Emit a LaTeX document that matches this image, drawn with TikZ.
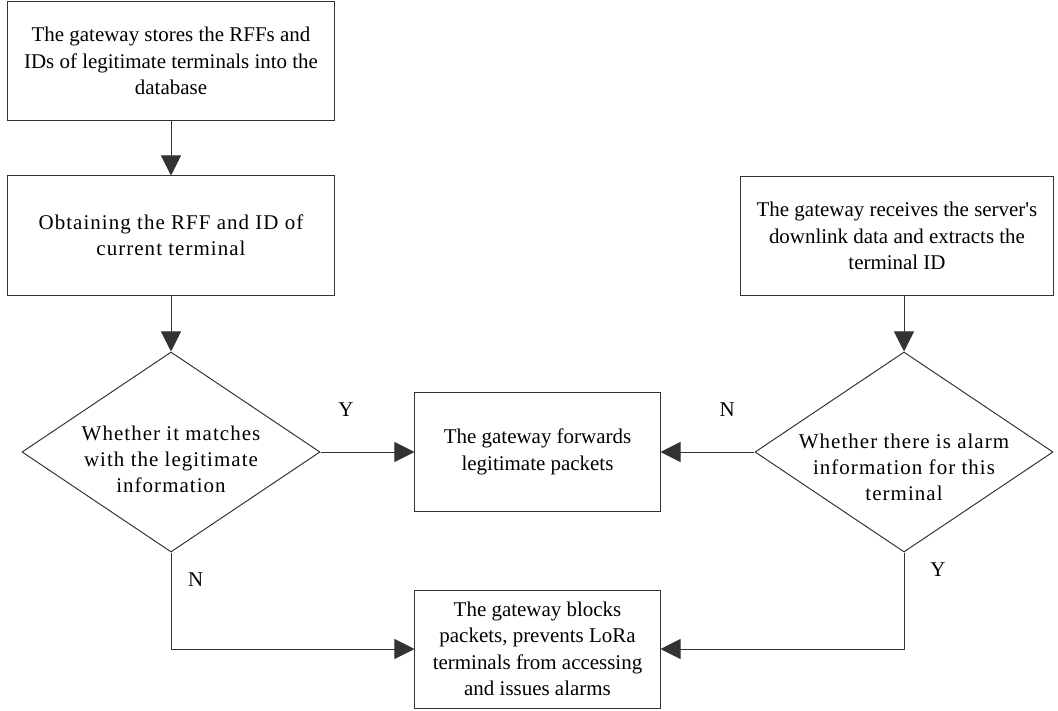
\documentclass[tikz,border=0pt]{standalone}
\usepackage{fontspec}
\setmainfont{Liberation Serif}
\newfontfamily\spacedfont[LetterSpace=5]{Liberation Serif}
\usetikzlibrary{positioning,shapes.geometric,arrows.meta}
\tikzset{>={Triangle[length=.5cm,width=.5cm]}}
\tikzset{
  box/.style={draw=black!80,line width=.7pt,align=center,inner sep=0pt,
    font=\fontsize{14.9}{18.8}\selectfont},
  decide/.style={draw=black!80,line width=.7pt,diamond,inner sep=0pt,
    minimum width=7.45cm,minimum height=5cm},
  decidetext/.style={align=center,inner sep=0pt,
    font=\spacedfont\fontsize{14.9}{18.6}\selectfont},
  flow/.style={draw=black!80,line width=.7pt,->},
  yn/.style={font=\fontsize{14.9}{18}\selectfont,inner sep=0pt}
}

\begin{document}
\begin{tikzpicture}[x=.025cm,y=-.025cm]
\useasboundingbox (0,0) rectangle (1058,710);
% left column
\node[box,minimum width=8.175cm,minimum height=2.95cm] (store) at (171,61)
  {The gateway stores the RFFs and\\IDs of legitimate terminals into the\\database};
\node[box,font=\spacedfont\fontsize{14.9}{18.8}\selectfont,minimum width=8.175cm,minimum height=2.975cm] (obtain) at (171,235.5)
  {Obtaining the RFF and ID of\\current terminal};
\node[decide] (match) at (171,452) {};
\node[decidetext] (matchtext) at (171,459) {Whether it matches\\with the legitimate\\information};
% middle column
\node[box,minimum width=6.125cm,minimum height=2.95cm] (fwd) at (537.5,452)
  {The gateway forwards\\legitimate packets};
\node[box,minimum width=6.125cm,minimum height=2.95cm] (block) at (537.5,649)
  {The gateway blocks\\packets, prevents LoRa\\terminals from accessing\\and issues alarms};
% right column
\node[box,minimum width=7.8cm,minimum height=2.95cm] (recv) at (897,236)
  {The gateway receives the server\textquotesingle s\\downlink data and extracts the\\terminal ID};
\node[decide] (alarm) at (904,452) {};
\node[decidetext] (alarmtext) at (904,467) {Whether there is alarm\\information for this\\terminal};

\draw[flow] (store) -- (obtain);
\draw[flow] (obtain) -- (match);
\draw[flow] (recv.south -| alarm.north) -- (alarm.north);
\draw[flow] (match) -- node[yn,pos=.27,yshift=1.05cm] {Y} (fwd);
\draw[flow] (alarm) -- node[yn,pos=.29,yshift=1.05cm] {N} (fwd);
\draw[flow] (match.south) |- node[yn,pos=.14,xshift=.62cm] {N} (block);
\draw[flow] (alarm.south) |- node[yn,pos=.09,xshift=.85cm] {Y} (block);
\end{tikzpicture}
\end{document}
